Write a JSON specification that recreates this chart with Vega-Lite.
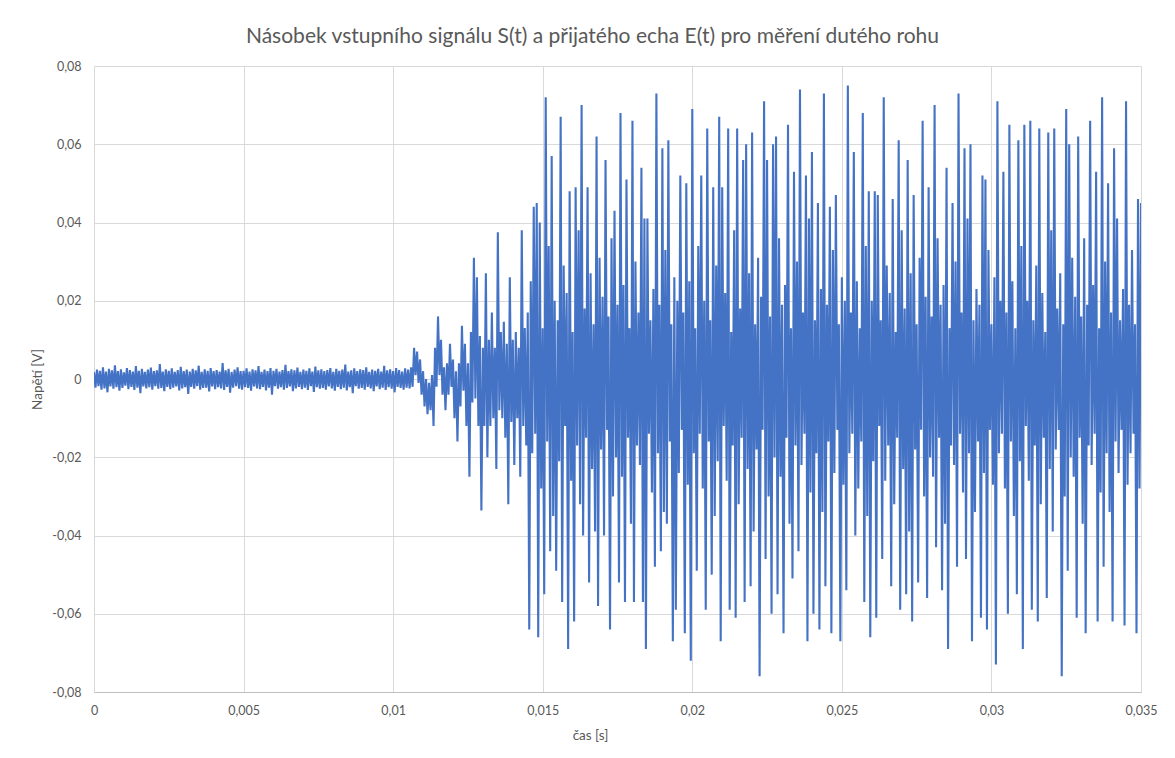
{
"$schema": "https://vega.github.io/schema/vega-lite/v6.json",
"width": 1047,
"height": 626,
"autosize": "none",
"padding": {"left": 94, "top": 66, "right": 34, "bottom": 66},
"background": "white",
"config": {"view": {"stroke": null}, "font": "Lato"},
"title": {"text": "Násobek vstupního signálu S(t) a přijatého echa E(t) pro měření dutého rohu", "font": "Lato", "fontSize": 21, "fontWeight": "normal", "color": "#595959", "dx": -25, "offset": 13},
"data": {"values": [
{"t":0,"v":0.0018},{"t":0.00005,"v":-0.0022},{"t":0.0001,"v":0.0024},{"t":0.00015,"v":-0.0018},{"t":0.0002,"v":0.0021},{"t":0.00025,"v":-0.0027},{"t":0.0003,"v":0.003},{"t":0.00035,"v":-0.0024},{"t":0.0004,"v":0.0019},{"t":0.00045,"v":-0.0034},
{"t":0.0005,"v":0.0026},{"t":0.00055,"v":-0.0019},{"t":0.0006,"v":0.0022},{"t":0.00065,"v":-0.0025},{"t":0.0007,"v":0.0035},{"t":0.00075,"v":-0.0021},{"t":0.0008,"v":0.002},{"t":0.00085,"v":-0.003},{"t":0.0009,"v":0.0025},{"t":0.00095,"v":-0.0023},
{"t":0.001,"v":0.0017},{"t":0.00105,"v":-0.0017},{"t":0.0011,"v":0.0028},{"t":0.00115,"v":-0.0026},{"t":0.0012,"v":0.0023},{"t":0.00125,"v":-0.002},{"t":0.0013,"v":0.0019},{"t":0.00135,"v":-0.0028},{"t":0.0014,"v":0.0033},{"t":0.00145,"v":-0.0022},
{"t":0.0015,"v":0.0021},{"t":0.00155,"v":-0.0036},{"t":0.0016,"v":0.0026},{"t":0.00165,"v":-0.0019},{"t":0.0017,"v":0.0018},{"t":0.00175,"v":-0.0024},{"t":0.0018,"v":0.0024},{"t":0.00185,"v":-0.0021},{"t":0.0019,"v":0.0029},{"t":0.00195,"v":-0.0027},
{"t":0.002,"v":0.002},{"t":0.00205,"v":-0.0018},{"t":0.0021,"v":0.0022},{"t":0.00215,"v":-0.0025},{"t":0.0022,"v":0.0038},{"t":0.00225,"v":-0.0023},{"t":0.0023,"v":0.0019},{"t":0.00235,"v":-0.0031},{"t":0.0024,"v":0.0025},{"t":0.00245,"v":-0.002},
{"t":0.0025,"v":0.0021},{"t":0.00255,"v":-0.0026},{"t":0.0026,"v":0.0027},{"t":0.00265,"v":-0.0022},{"t":0.0027,"v":0.0018},{"t":0.00275,"v":-0.0019},{"t":0.0028,"v":0.0023},{"t":0.00285,"v":-0.0029},{"t":0.0029,"v":0.0031},{"t":0.00295,"v":-0.0024},
{"t":0.003,"v":0.002},{"t":0.00305,"v":-0.0021},{"t":0.0031,"v":0.0024},{"t":0.00315,"v":-0.0038},{"t":0.0032,"v":0.0019},{"t":0.00325,"v":-0.002},{"t":0.0033,"v":0.0026},{"t":0.00335,"v":-0.0025},{"t":0.0034,"v":0.0022},{"t":0.00345,"v":-0.0018},
{"t":0.0035,"v":0.0034},{"t":0.00355,"v":-0.0027},{"t":0.0036,"v":0.0018},{"t":0.00365,"v":-0.0023},{"t":0.0037,"v":0.0025},{"t":0.00375,"v":-0.0022},{"t":0.0038,"v":0.0021},{"t":0.00385,"v":-0.0032},{"t":0.0039,"v":0.0028},{"t":0.00395,"v":-0.0019},
{"t":0.004,"v":0.002},{"t":0.00405,"v":-0.0026},{"t":0.0041,"v":0.0023},{"t":0.00415,"v":-0.0021},{"t":0.0042,"v":0.0019},{"t":0.00425,"v":-0.0024},{"t":0.0043,"v":0.0041},{"t":0.00435,"v":-0.0028},{"t":0.0044,"v":0.0022},{"t":0.00445,"v":-0.002},
{"t":0.0045,"v":0.0026},{"t":0.00455,"v":-0.0035},{"t":0.0046,"v":0.0018},{"t":0.00465,"v":-0.0022},{"t":0.0047,"v":0.0024},{"t":0.00475,"v":-0.0018},{"t":0.0048,"v":0.003},{"t":0.00485,"v":-0.0025},{"t":0.0049,"v":0.002},{"t":0.00495,"v":-0.0027},
{"t":0.005,"v":0.0021},{"t":0.00505,"v":-0.0021},{"t":0.0051,"v":0.0027},{"t":0.00515,"v":-0.0023},{"t":0.0052,"v":0.0019},{"t":0.00525,"v":-0.003},{"t":0.0053,"v":0.0025},{"t":0.00535,"v":-0.0019},{"t":0.0054,"v":0.0022},{"t":0.00545,"v":-0.0024},
{"t":0.0055,"v":0.0033},{"t":0.00555,"v":-0.0026},{"t":0.0056,"v":0.0018},{"t":0.00565,"v":-0.002},{"t":0.0057,"v":0.0024},{"t":0.00575,"v":-0.0029},{"t":0.0058,"v":0.002},{"t":0.00585,"v":-0.0022},{"t":0.0059,"v":0.0028},{"t":0.00595,"v":-0.004},
{"t":0.006,"v":0.0021},{"t":0.00605,"v":-0.0018},{"t":0.0061,"v":0.0026},{"t":0.00615,"v":-0.0025},{"t":0.0062,"v":0.0019},{"t":0.00625,"v":-0.0021},{"t":0.0063,"v":0.0023},{"t":0.00635,"v":-0.0027},{"t":0.0064,"v":0.0036},{"t":0.00645,"v":-0.0023},
{"t":0.0065,"v":0.002},{"t":0.00655,"v":-0.0019},{"t":0.0066,"v":0.0025},{"t":0.00665,"v":-0.0031},{"t":0.0067,"v":0.0022},{"t":0.00675,"v":-0.0024},{"t":0.0068,"v":0.0029},{"t":0.00685,"v":-0.002},{"t":0.0069,"v":0.0018},{"t":0.00695,"v":-0.0026},
{"t":0.007,"v":0.0024},{"t":0.00705,"v":-0.0022},{"t":0.0071,"v":0.0021},{"t":0.00715,"v":-0.0028},{"t":0.0072,"v":0.0027},{"t":0.00725,"v":-0.0018},{"t":0.0073,"v":0.0019},{"t":0.00735,"v":-0.0033},{"t":0.0074,"v":0.0032},{"t":0.00745,"v":-0.0021},
{"t":0.0075,"v":0.0022},{"t":0.00755,"v":-0.0025},{"t":0.0076,"v":0.0025},{"t":0.00765,"v":-0.0023},{"t":0.0077,"v":0.002},{"t":0.00775,"v":-0.0027},{"t":0.0078,"v":0.0023},{"t":0.00785,"v":-0.0019},{"t":0.0079,"v":0.0028},{"t":0.00795,"v":-0.0024},
{"t":0.008,"v":0.0018},{"t":0.00805,"v":-0.003},{"t":0.0081,"v":0.0026},{"t":0.00815,"v":-0.002},{"t":0.0082,"v":0.0021},{"t":0.00825,"v":-0.0026},{"t":0.0083,"v":0.0024},{"t":0.00835,"v":-0.0022},{"t":0.0084,"v":0.0037},{"t":0.00845,"v":-0.0029},
{"t":0.0085,"v":0.0019},{"t":0.00855,"v":-0.0021},{"t":0.0086,"v":0.0022},{"t":0.00865,"v":-0.0036},{"t":0.0087,"v":0.0027},{"t":0.00875,"v":-0.0018},{"t":0.0088,"v":0.002},{"t":0.00885,"v":-0.0025},{"t":0.0089,"v":0.0025},{"t":0.00895,"v":-0.0023},
{"t":0.009,"v":0.0023},{"t":0.00905,"v":-0.0027},{"t":0.0091,"v":0.003},{"t":0.00915,"v":-0.002},{"t":0.0092,"v":0.0018},{"t":0.00925,"v":-0.0024},{"t":0.0093,"v":0.0024},{"t":0.00935,"v":-0.0031},{"t":0.0094,"v":0.0021},{"t":0.00945,"v":-0.0019},
{"t":0.0095,"v":0.0026},{"t":0.00955,"v":-0.0026},{"t":0.0096,"v":0.0019},{"t":0.00965,"v":-0.0022},{"t":0.0097,"v":0.0034},{"t":0.00975,"v":-0.0028},{"t":0.0098,"v":0.0022},{"t":0.00985,"v":-0.0021},{"t":0.0099,"v":0.0025},{"t":0.00995,"v":-0.0025},
{"t":0.01,"v":0.002},{"t":0.01005,"v":-0.0034},{"t":0.0101,"v":0.0028},{"t":0.01015,"v":-0.002},{"t":0.0102,"v":0.0023},{"t":0.01025,"v":-0.0023},{"t":0.0103,"v":0.0019},{"t":0.01035,"v":-0.0027},{"t":0.0104,"v":0.0027},{"t":0.01045,"v":-0.0022},
{"t":0.0105,"v":0.0024},{"t":0.01055,"v":-0.0024},
{"t":0.0106,"v":0.003},{"t":0.01065,"v":-0.002},{"t":0.0107,"v":0.008},{"t":0.01075,"v":0.001},{"t":0.0108,"v":0.007},{"t":0.01085,"v":-0.001},{"t":0.0109,"v":0.005},{"t":0.01095,"v":-0.004},{"t":0.011,"v":0.002},{"t":0.01105,"v":-0.007},
{"t":0.0111,"v":0.0},{"t":0.01115,"v":-0.009},{"t":0.0112,"v":-0.001},{"t":0.01125,"v":-0.008},{"t":0.0113,"v":0.001},{"t":0.01135,"v":-0.012},{"t":0.0114,"v":0.008},{"t":0.01145,"v":-0.002},{"t":0.0115,"v":0.016},{"t":0.01155,"v":0.001},
{"t":0.0116,"v":0.01},{"t":0.01165,"v":-0.004},{"t":0.0117,"v":0.003},{"t":0.01175,"v":-0.008},{"t":0.0118,"v":0.004},{"t":0.01185,"v":-0.004},{"t":0.0119,"v":0.009},{"t":0.01195,"v":-0.002},{"t":0.012,"v":0.005},{"t":0.01205,"v":-0.01},
{"t":0.0121,"v":0.002},{"t":0.01215,"v":-0.016},{"t":0.0122,"v":0.004},{"t":0.01225,"v":-0.007},{"t":0.0123,"v":0.0136},{"t":0.01235,"v":-0.003},{"t":0.0124,"v":0.009},{"t":0.01245,"v":-0.012},{"t":0.0125,"v":0.004},{"t":0.01255,"v":-0.025},
{"t":0.0126,"v":0.012},{"t":0.01265,"v":-0.006},{"t":0.0127,"v":0.031},{"t":0.01275,"v":-0.005},{"t":0.0128,"v":0.026},{"t":0.01285,"v":-0.012},{"t":0.0129,"v":0.011},{"t":0.01295,"v":-0.0336},{"t":0.013,"v":0.008},{"t":0.01305,"v":-0.012},
{"t":0.0131,"v":0.027},{"t":0.01315,"v":-0.02},{"t":0.0132,"v":0.01},{"t":0.01325,"v":-0.012},{"t":0.0133,"v":0.017},{"t":0.01335,"v":-0.01},{"t":0.0134,"v":0.008},{"t":0.01345,"v":-0.023},{"t":0.0135,"v":0.0375},{"t":0.01355,"v":-0.008},
{"t":0.0136,"v":0.012},{"t":0.01365,"v":-0.01},{"t":0.0137,"v":0.0146},{"t":0.01375,"v":-0.015},{"t":0.0138,"v":0.009},{"t":0.01385,"v":-0.032},{"t":0.0139,"v":0.026},{"t":0.01395,"v":-0.011},{"t":0.014,"v":0.01},{"t":0.01405,"v":-0.022},
{"t":0.0141,"v":0.012},{"t":0.01415,"v":-0.01},{"t":0.0142,"v":0.008},{"t":0.01425,"v":-0.025},{"t":0.0143,"v":0.038},{"t":0.01435,"v":-0.012},{"t":0.0144,"v":0.013},{"t":0.01445,"v":-0.017},
{"t":0.0145,"v":0.017},{"t":0.01455,"v":-0.064},{"t":0.0146,"v":0.025},{"t":0.01465,"v":-0.019},{"t":0.0147,"v":0.044},{"t":0.01475,"v":-0.014},{"t":0.0148,"v":0.045},{"t":0.01485,"v":-0.066},{"t":0.0149,"v":0.04},{"t":0.01495,"v":-0.028},
{"t":0.015,"v":0.013},{"t":0.01505,"v":-0.055},{"t":0.0151,"v":0.072},{"t":0.01515,"v":-0.016},{"t":0.0152,"v":0.034},{"t":0.01525,"v":-0.044},{"t":0.0153,"v":0.057},{"t":0.01535,"v":-0.035},{"t":0.0154,"v":0.02},{"t":0.01545,"v":-0.049},
{"t":0.0155,"v":0.015},{"t":0.01555,"v":-0.021},{"t":0.0156,"v":0.067},{"t":0.01565,"v":-0.057},{"t":0.0157,"v":0.029},{"t":0.01575,"v":-0.012},{"t":0.0158,"v":0.022},{"t":0.01585,"v":-0.069},{"t":0.0159,"v":0.048},{"t":0.01595,"v":-0.026},
{"t":0.016,"v":0.012},{"t":0.01605,"v":-0.062},{"t":0.0161,"v":0.049},{"t":0.01615,"v":-0.017},{"t":0.0162,"v":0.038},{"t":0.01625,"v":-0.032},{"t":0.0163,"v":0.07},{"t":0.01635,"v":-0.04},{"t":0.0164,"v":0.018},{"t":0.01645,"v":-0.015},
{"t":0.0165,"v":0.049},{"t":0.01655,"v":-0.052},{"t":0.0166,"v":0.027},{"t":0.01665,"v":-0.023},{"t":0.0167,"v":0.014},{"t":0.01675,"v":-0.039},{"t":0.0168,"v":0.062},{"t":0.01685,"v":-0.058},{"t":0.0169,"v":0.031},{"t":0.01695,"v":-0.018},
{"t":0.017,"v":0.021},{"t":0.01705,"v":-0.04},{"t":0.0171,"v":0.056},{"t":0.01715,"v":-0.013},{"t":0.0172,"v":0.016},{"t":0.01725,"v":-0.064},{"t":0.0173,"v":0.036},{"t":0.01735,"v":-0.03},{"t":0.0174,"v":0.043},{"t":0.01745,"v":-0.02},
{"t":0.0175,"v":0.019},{"t":0.01755,"v":-0.052},{"t":0.0176,"v":0.068},{"t":0.01765,"v":-0.025},{"t":0.0177,"v":0.024},{"t":0.01775,"v":-0.057},{"t":0.0178,"v":0.051},{"t":0.01785,"v":-0.015},{"t":0.0179,"v":0.013},{"t":0.01795,"v":-0.037},
{"t":0.018,"v":0.066},{"t":0.01805,"v":-0.057},{"t":0.0181,"v":0.03},{"t":0.01815,"v":-0.017},{"t":0.0182,"v":0.017},{"t":0.01825,"v":-0.022},{"t":0.0183,"v":0.054},{"t":0.01835,"v":-0.057},{"t":0.0184,"v":0.041},{"t":0.01845,"v":-0.069},
{"t":0.0185,"v":0.041},{"t":0.01855,"v":-0.014},{"t":0.0186,"v":0.015},{"t":0.01865,"v":-0.029},{"t":0.0187,"v":0.023},{"t":0.01875,"v":-0.048},{"t":0.0188,"v":0.073},{"t":0.01885,"v":-0.019},{"t":0.0189,"v":0.019},{"t":0.01895,"v":-0.044},
{"t":0.019,"v":0.059},{"t":0.01905,"v":-0.034},{"t":0.0191,"v":0.033},{"t":0.01915,"v":-0.037},{"t":0.0192,"v":0.061},{"t":0.01925,"v":-0.016},{"t":0.0193,"v":0.014},{"t":0.01935,"v":-0.067},{"t":0.0194,"v":0.026},{"t":0.01945,"v":-0.059},
{"t":0.0195,"v":0.02},{"t":0.01955,"v":-0.024},{"t":0.0196,"v":0.052},{"t":0.01965,"v":-0.013},{"t":0.0197,"v":0.017},{"t":0.01975,"v":-0.065},{"t":0.0198,"v":0.05},{"t":0.01985,"v":-0.027},{"t":0.0199,"v":0.025},{"t":0.01995,"v":-0.072},
{"t":0.02,"v":0.069},{"t":0.02005,"v":-0.019},{"t":0.0201,"v":0.013},{"t":0.02015,"v":-0.049},{"t":0.0202,"v":0.034},{"t":0.02025,"v":-0.014},{"t":0.0203,"v":0.052},{"t":0.02035,"v":-0.028},{"t":0.0204,"v":0.02},{"t":0.02045,"v":-0.059},
{"t":0.0205,"v":0.064},{"t":0.02055,"v":-0.016},{"t":0.0206,"v":0.015},{"t":0.02065,"v":-0.05},{"t":0.0207,"v":0.049},{"t":0.02075,"v":-0.035},{"t":0.0208,"v":0.029},{"t":0.02085,"v":-0.021},{"t":0.0209,"v":0.067},{"t":0.02095,"v":-0.067},
{"t":0.021,"v":0.049},{"t":0.02105,"v":-0.012},{"t":0.0211,"v":0.022},{"t":0.02115,"v":-0.026},{"t":0.0212,"v":0.064},{"t":0.02125,"v":-0.059},{"t":0.0213,"v":0.012},{"t":0.02135,"v":-0.017},{"t":0.0214,"v":0.038},{"t":0.02145,"v":-0.061},
{"t":0.0215,"v":0.064},{"t":0.02155,"v":-0.032},{"t":0.0216,"v":0.018},{"t":0.02165,"v":-0.015},{"t":0.0217,"v":0.056},{"t":0.02175,"v":-0.057},{"t":0.0218,"v":0.06},{"t":0.02185,"v":-0.023},{"t":0.0219,"v":0.027},{"t":0.02195,"v":-0.053},
{"t":0.022,"v":0.063},{"t":0.02205,"v":-0.039},{"t":0.0221,"v":0.014},{"t":0.02215,"v":-0.018},{"t":0.0222,"v":0.031},{"t":0.02225,"v":-0.076},{"t":0.0223,"v":0.021},{"t":0.02235,"v":-0.013},{"t":0.0224,"v":0.071},{"t":0.02245,"v":-0.046},
{"t":0.0225,"v":0.056},{"t":0.02255,"v":-0.03},{"t":0.0226,"v":0.016},{"t":0.02265,"v":-0.06},{"t":0.0227,"v":0.06},{"t":0.02275,"v":-0.02},{"t":0.0228,"v":0.062},{"t":0.02285,"v":-0.055},{"t":0.0229,"v":0.036},{"t":0.02295,"v":-0.025},
{"t":0.023,"v":0.019},{"t":0.02305,"v":-0.065},{"t":0.0231,"v":0.024},{"t":0.02315,"v":-0.015},{"t":0.0232,"v":0.065},{"t":0.02325,"v":-0.037},{"t":0.0233,"v":0.013},{"t":0.02335,"v":-0.051},{"t":0.0234,"v":0.053},{"t":0.02345,"v":-0.017},
{"t":0.0235,"v":0.03},{"t":0.02355,"v":-0.044},{"t":0.0236,"v":0.074},{"t":0.02365,"v":-0.022},{"t":0.0237,"v":0.017},{"t":0.02375,"v":-0.014},{"t":0.0238,"v":0.052},{"t":0.02385,"v":-0.067},{"t":0.0239,"v":0.041},{"t":0.02395,"v":-0.029},
{"t":0.024,"v":0.058},{"t":0.02405,"v":-0.06},{"t":0.0241,"v":0.015},{"t":0.02415,"v":-0.019},{"t":0.0242,"v":0.045},{"t":0.02425,"v":-0.064},{"t":0.0243,"v":0.023},{"t":0.02435,"v":-0.034},{"t":0.0244,"v":0.073},{"t":0.02445,"v":-0.053},
{"t":0.0245,"v":0.019},{"t":0.02455,"v":-0.016},{"t":0.0246,"v":0.044},{"t":0.02465,"v":-0.065},{"t":0.0247,"v":0.033},{"t":0.02475,"v":-0.024},{"t":0.0248,"v":0.047},{"t":0.02485,"v":-0.013},{"t":0.0249,"v":0.014},{"t":0.02495,"v":-0.067},
{"t":0.025,"v":0.026},{"t":0.02505,"v":-0.027},{"t":0.0251,"v":0.02},{"t":0.02515,"v":-0.054},{"t":0.0252,"v":0.075},{"t":0.02525,"v":-0.019},{"t":0.0253,"v":0.017},{"t":0.02535,"v":-0.014},{"t":0.0254,"v":0.058},{"t":0.02545,"v":-0.04},
{"t":0.0255,"v":0.025},{"t":0.02555,"v":-0.028},{"t":0.0256,"v":0.013},{"t":0.02565,"v":-0.016},{"t":0.0257,"v":0.068},{"t":0.02575,"v":-0.057},{"t":0.0258,"v":0.034},{"t":0.02585,"v":-0.035},{"t":0.0259,"v":0.048},{"t":0.02595,"v":-0.066},
{"t":0.026,"v":0.02},{"t":0.02605,"v":-0.021},{"t":0.0261,"v":0.048},{"t":0.02615,"v":-0.061},{"t":0.0262,"v":0.047},{"t":0.02625,"v":-0.012},{"t":0.0263,"v":0.015},{"t":0.02635,"v":-0.046},{"t":0.0264,"v":0.072},{"t":0.02645,"v":-0.026},
{"t":0.0265,"v":0.029},{"t":0.02655,"v":-0.017},{"t":0.0266,"v":0.022},{"t":0.02665,"v":-0.053},{"t":0.0267,"v":0.046},{"t":0.02675,"v":-0.032},{"t":0.0268,"v":0.012},{"t":0.02685,"v":-0.015},{"t":0.0269,"v":0.061},{"t":0.02695,"v":-0.059},
{"t":0.027,"v":0.038},{"t":0.02705,"v":-0.023},{"t":0.0271,"v":0.018},{"t":0.02715,"v":-0.055},{"t":0.0272,"v":0.056},{"t":0.02725,"v":-0.039},{"t":0.0273,"v":0.027},{"t":0.02735,"v":-0.062},{"t":0.0274,"v":0.047},{"t":0.02745,"v":-0.018},
{"t":0.0275,"v":0.014},{"t":0.02755,"v":-0.052},{"t":0.0276,"v":0.031},{"t":0.02765,"v":-0.013},{"t":0.0277,"v":0.066},{"t":0.02775,"v":-0.03},{"t":0.0278,"v":0.021},{"t":0.02785,"v":-0.056},{"t":0.0279,"v":0.049},{"t":0.02795,"v":-0.02},
{"t":0.028,"v":0.016},{"t":0.02805,"v":-0.025},{"t":0.0281,"v":0.07},{"t":0.02815,"v":-0.043},{"t":0.0282,"v":0.036},{"t":0.02825,"v":-0.015},{"t":0.0283,"v":0.019},{"t":0.02835,"v":-0.054},{"t":0.0284,"v":0.024},{"t":0.02845,"v":-0.037},
{"t":0.0285,"v":0.054},{"t":0.02855,"v":-0.069},{"t":0.0286,"v":0.013},{"t":0.02865,"v":-0.017},{"t":0.0287,"v":0.045},{"t":0.02875,"v":-0.022},{"t":0.0288,"v":0.03},{"t":0.02885,"v":-0.048},{"t":0.0289,"v":0.073},{"t":0.02895,"v":-0.014},
{"t":0.029,"v":0.017},{"t":0.02905,"v":-0.029},{"t":0.0291,"v":0.059},{"t":0.02915,"v":-0.046},{"t":0.0292,"v":0.041},{"t":0.02925,"v":-0.019},{"t":0.0293,"v":0.06},{"t":0.02935,"v":-0.067},{"t":0.0294,"v":0.015},{"t":0.02945,"v":-0.034},
{"t":0.0295,"v":0.023},{"t":0.02955,"v":-0.016},{"t":0.0296,"v":0.019},{"t":0.02965,"v":-0.061},{"t":0.0297,"v":0.052},{"t":0.02975,"v":-0.024},{"t":0.0298,"v":0.051},{"t":0.02985,"v":-0.064},{"t":0.0299,"v":0.033},{"t":0.02995,"v":-0.013},
{"t":0.03,"v":0.014},{"t":0.03005,"v":-0.027},{"t":0.0301,"v":0.026},{"t":0.03015,"v":-0.073},{"t":0.0302,"v":0.071},{"t":0.03025,"v":-0.019},{"t":0.0303,"v":0.02},{"t":0.03035,"v":-0.014},{"t":0.0304,"v":0.053},{"t":0.03045,"v":-0.028},
{"t":0.0305,"v":0.017},{"t":0.03055,"v":-0.06},{"t":0.0306,"v":0.065},{"t":0.03065,"v":-0.016},{"t":0.0307,"v":0.025},{"t":0.03075,"v":-0.035},{"t":0.0308,"v":0.013},{"t":0.03085,"v":-0.055},{"t":0.0309,"v":0.061},{"t":0.03095,"v":-0.021},
{"t":0.031,"v":0.034},{"t":0.03105,"v":-0.069},{"t":0.0311,"v":0.065},{"t":0.03115,"v":-0.012},{"t":0.0312,"v":0.02},{"t":0.03125,"v":-0.026},{"t":0.0313,"v":0.066},{"t":0.03135,"v":-0.059},{"t":0.0314,"v":0.015},{"t":0.03145,"v":-0.017},
{"t":0.0315,"v":0.029},{"t":0.03155,"v":-0.062},{"t":0.0316,"v":0.064},{"t":0.03165,"v":-0.032},{"t":0.0317,"v":0.022},{"t":0.03175,"v":-0.015},{"t":0.0318,"v":0.012},{"t":0.03185,"v":-0.056},{"t":0.0319,"v":0.063},{"t":0.03195,"v":-0.023},
{"t":0.032,"v":0.038},{"t":0.03205,"v":-0.039},{"t":0.0321,"v":0.064},{"t":0.03215,"v":-0.018},{"t":0.0322,"v":0.018},{"t":0.03225,"v":-0.013},{"t":0.0323,"v":0.027},{"t":0.03235,"v":-0.076},{"t":0.0324,"v":0.014},{"t":0.03245,"v":-0.03},
{"t":0.0325,"v":0.069},{"t":0.03255,"v":-0.049},{"t":0.0326,"v":0.06},{"t":0.03265,"v":-0.02},{"t":0.0327,"v":0.031},{"t":0.03275,"v":-0.025},{"t":0.0328,"v":0.021},{"t":0.03285,"v":-0.061},{"t":0.0329,"v":0.062},{"t":0.03295,"v":-0.015},
{"t":0.033,"v":0.016},{"t":0.03305,"v":-0.037},{"t":0.0331,"v":0.036},{"t":0.03315,"v":-0.065},{"t":0.0332,"v":0.019},{"t":0.03325,"v":-0.017},{"t":0.0333,"v":0.066},{"t":0.03335,"v":-0.022},{"t":0.0334,"v":0.024},{"t":0.03345,"v":-0.014},
{"t":0.0335,"v":0.053},{"t":0.03355,"v":-0.062},{"t":0.0336,"v":0.013},{"t":0.03365,"v":-0.029},{"t":0.0337,"v":0.072},{"t":0.03375,"v":-0.048},{"t":0.0338,"v":0.03},{"t":0.03385,"v":-0.019},{"t":0.0339,"v":0.05},{"t":0.03395,"v":-0.034},
{"t":0.034,"v":0.017},{"t":0.03405,"v":-0.062},{"t":0.0341,"v":0.059},{"t":0.03415,"v":-0.016},{"t":0.0342,"v":0.041},{"t":0.03425,"v":-0.024},{"t":0.0343,"v":0.015},{"t":0.03435,"v":-0.013},{"t":0.0344,"v":0.023},{"t":0.03445,"v":-0.063},
{"t":0.0345,"v":0.071},{"t":0.03455,"v":-0.027},{"t":0.0346,"v":0.019},{"t":0.03465,"v":-0.019},{"t":0.0347,"v":0.033},{"t":0.03475,"v":-0.014},{"t":0.0348,"v":0.014},{"t":0.03485,"v":-0.065},{"t":0.0349,"v":0.046},{"t":0.03495,"v":-0.028},
{"t":0.035,"v":0.045}
]},
"mark": {"type": "line", "color": "#4472C4", "strokeWidth": 2.1, "strokeJoin": "bevel", "clip": true},
"encoding": {
  "x": {"field": "t", "type": "quantitative", "sort": null,
    "scale": {"domain": [0, 0.035], "nice": false, "zero": false},
    "axis": {"title": "čas [s]", "values": [0, 0.005, 0.01, 0.015, 0.02, 0.025, 0.03, 0.035],
      "labelExpr": "replace(toString(datum.value), '.', ',')", "labelFlush": false,
      "grid": true, "gridColor": "#d9d9d9", "gridWidth": 1,
      "domain": true, "domainColor": "#bfbfbf", "ticks": false,
      "labelPadding": 12, "labelFont": "Lato", "labelFontSize": 12.5, "labelColor": "#595959",
      "titleFont": "Lato", "titleFontSize": 13.5, "titleFontWeight": "normal", "titleColor": "#595959",
      "titleX": 496, "titleY": 43, "titleAlign": "center", "titleBaseline": "middle"}},
  "y": {"field": "v", "type": "quantitative",
    "scale": {"domain": [-0.08, 0.08], "nice": false, "zero": false},
    "axis": {"title": "Napětí [V]", "values": [-0.08, -0.06, -0.04, -0.02, 0, 0.02, 0.04, 0.06, 0.08],
      "labelExpr": "replace(toString(datum.value), '.', ',')", "labelFlush": false,
      "grid": true, "gridColor": "#d9d9d9", "gridWidth": 1,
      "domain": false, "ticks": false,
      "labelPadding": 13, "labelFont": "Lato", "labelFontSize": 12.5, "labelColor": "#595959",
      "titleFont": "Lato", "titleFontSize": 13.5, "titleFontWeight": "normal", "titleColor": "#595959",
      "titleX": -57, "titleY": 313, "titleAngle": -90, "titleAlign": "center", "titleBaseline": "middle"}}
}
}
